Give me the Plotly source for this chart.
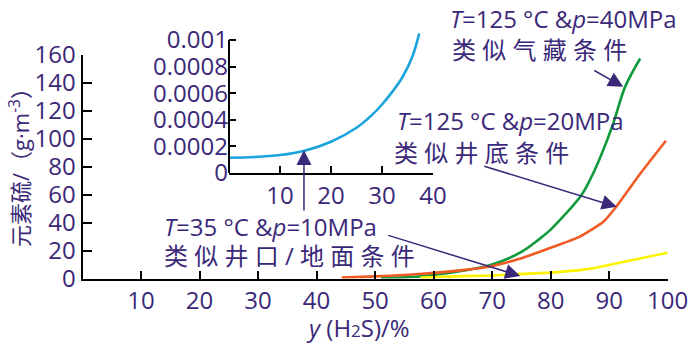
import plotly.graph_objects as go

# ---- data ----
green_x = [51, 55, 60, 65, 70, 75, 78, 80, 82.5, 85.3, 87, 88.5, 90.7, 92.7, 95.3]
green_y = [0.4, 0.8, 2.5, 5.5, 10, 19, 28, 35, 46, 60, 73, 87, 111, 137, 157.5]

orange_x = [44.3, 50, 55, 60, 65, 70, 75, 80, 85, 89, 91, 95.3, 99.7]
orange_y = [0.6, 1.5, 2.5, 4, 6, 9, 14.5, 22, 30, 40.6, 50.3, 75, 98.6]

yellow_x = [57.8, 61, 65, 70, 75, 80, 85, 87.3, 100]
yellow_y = [0.6, 1.3, 1.7, 2.2, 3, 4.2, 6, 7.3, 18.5]

inset_x = [0, 5, 10, 15, 20, 25, 28, 30, 32, 34, 36, 37.3]
inset_y = [0.000115, 0.00012, 0.000135, 0.00017, 0.000235, 0.00034,
           0.000435, 0.000515, 0.00061, 0.00072, 0.00088, 0.00105]

main_xticks = [10, 20, 30, 40, 50, 60, 70, 80, 90, 100]
main_yticks = [0, 20, 40, 60, 80, 100, 120, 140, 160]
inset_xticks = [10, 20, 30, 40]
inset_yticks = [0, 0.0002, 0.0004, 0.0006, 0.0008, 0.001]
inset_ylabels = ["0", "0.0002", "0.0004", "0.0006", "0.0008", "0.001"]

PURPLE = "#3a2878"
FONT = "Open Sans, Noto Sans CJK SC, sans-serif"
W, H = 700, 344

def px(x):
    return x / W

def py(y):
    return 1 - y / H

fig = go.Figure()

fig.add_trace(go.Scatter(x=green_x, y=green_y, mode="lines",
                         line=dict(color="#109a3c", width=2.6, shape="spline", smoothing=1.0),
                         xaxis="x", yaxis="y", showlegend=False))
fig.add_trace(go.Scatter(x=orange_x, y=orange_y, mode="lines",
                         line=dict(color="#f05a23", width=2.6, shape="spline", smoothing=0.5),
                         xaxis="x", yaxis="y", showlegend=False))
fig.add_trace(go.Scatter(x=yellow_x, y=yellow_y, mode="lines",
                         line=dict(color="#fff200", width=2.6),
                         xaxis="x", yaxis="y", showlegend=False))
fig.add_trace(go.Scatter(x=inset_x, y=inset_y, mode="lines",
                         line=dict(color="#1aa3dc", width=2.6, shape="spline", smoothing=1.0),
                         xaxis="x2", yaxis="y2", showlegend=False))

axis_common = dict(showgrid=False, zeroline=False, showline=True, linecolor="black",
                   linewidth=2, ticks="inside", tickcolor="black", tickwidth=1.5,
                   automargin=False,
                   tickfont=dict(family=FONT, size=24, color=PURPLE))

fig.update_layout(
    width=W, height=H,
    margin=dict(l=0, r=0, t=0, b=0, pad=0, autoexpand=False),
    paper_bgcolor="white", plot_bgcolor="rgba(0,0,0,0)",
    xaxis=dict(domain=[px(82.5), px(667.7)], range=[0, 100], tickvals=main_xticks,
               ticklen=8, anchor="y", **axis_common),
    yaxis=dict(domain=[py(278.5), py(55)], range=[0, 160], tickvals=main_yticks,
               ticklen=9, anchor="x", **axis_common),
    xaxis2=dict(domain=[px(229), px(433)], range=[0, 40], tickvals=inset_xticks,
                ticklen=7, anchor="y2", **axis_common),
    yaxis2=dict(domain=[py(173), py(32)], range=[0, 0.00106], tickvals=inset_yticks,
                ticktext=inset_ylabels, ticklen=7, anchor="x2",
                **{**axis_common, "showline": False}),
)

# inset y-axis line up to 0.001
fig.add_shape(type="line", xref="x2 domain", yref="y2", x0=0, x1=0, y0=0, y1=0.001,
              line=dict(color="black", width=2))

txt = dict(family=FONT, size=24, color=PURPLE)
annos = [
    dict(text="<i>T</i>=125 °C &amp;<i>p</i>=40MPa", x=px(448), y=py(19)),
    dict(text="类 似 气 藏 条 件", x=px(450), y=py(49)),
    dict(text="<i>T</i>=125 °C &amp;<i>p</i>=20MPa", x=px(395), y=py(121)),
    dict(text="类 似 井 底 条 件", x=px(392), y=py(152)),
    dict(text="<i>T</i>=35 °C &amp;<i>p</i>=10MPa", x=px(162), y=py(227)),
    dict(text="类 似 井 口 / 地 面 条 件", x=px(162), y=py(255)),
]
for a in annos:
    fig.add_annotation(xref="paper", yref="paper", xanchor="left", yanchor="middle",
                       showarrow=False, font=txt, **a)

# axis titles
fig.add_annotation(xref="paper", yref="paper", x=px(358), y=py(327), xanchor="center",
                   yanchor="middle", showarrow=False, font=txt,
                   text="<i>y</i> (H<span style='font-size:17px'>2</span>S)/%")
fig.add_annotation(xref="paper", yref="paper", x=px(20), y=py(162), xanchor="center",
                   yanchor="middle", showarrow=False, textangle=-90,
                   font=dict(family=FONT, size=22, color=PURPLE),
                   text="元素硫/（g·m<sup>-3</sup>）")

# arrows
arrow = dict(text="", showarrow=True, arrowhead=2, arrowsize=2, arrowwidth=1.5,
             arrowcolor=PURPLE, standoff=0)
fig.add_annotation(xref="x", yref="y", axref="x", ayref="y",
                   x=92.4, y=137.3, ax=87.2, ay=149.5, **arrow)
fig.add_annotation(xref="x", yref="y", axref="x", ayref="y",
                   x=91.3, y=51.3, ax=68.4, ay=80.7, **arrow)
fig.add_annotation(xref="x", yref="y", axref="x", ayref="y",
                   x=74.8, y=1.8, ax=52.0, ay=31.2, **arrow)
fig.add_annotation(xref="x2", yref="y2", axref="x2", ayref="y2",
                   x=14.7, y=0.000173, ax=14.7, ay=-0.000293, **arrow)

fig.write_html("out.html")
